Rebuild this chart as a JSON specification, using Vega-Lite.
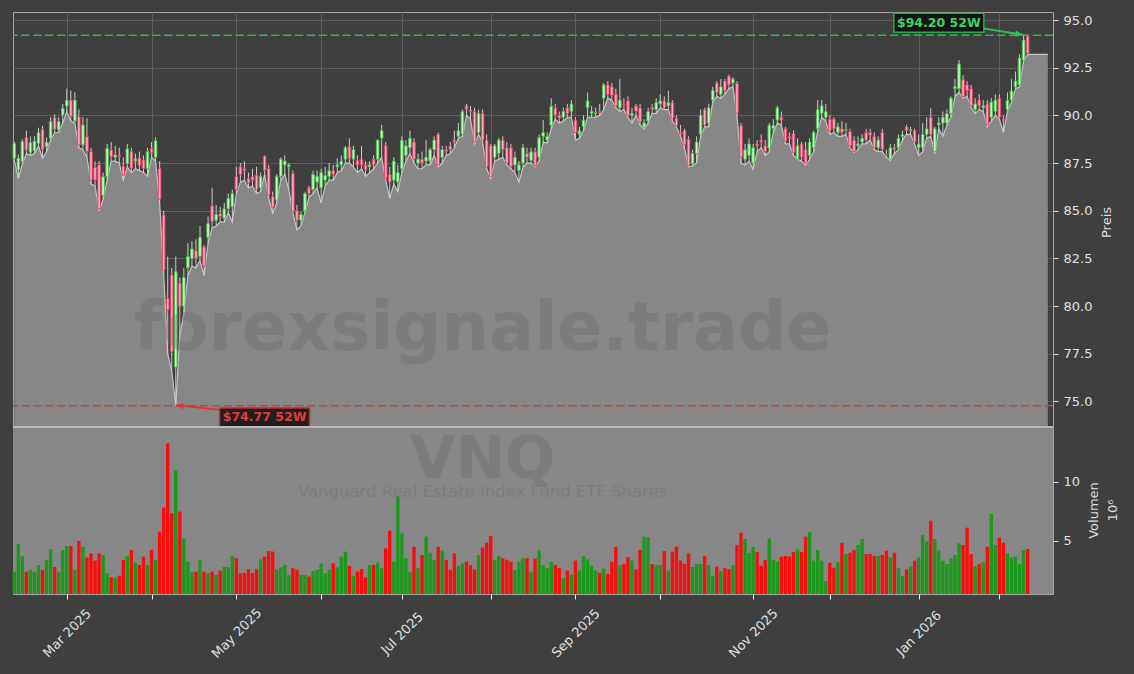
{
"$schema":"https://vega.github.io/schema/vega-lite/v6.json",
"width":1040,"height":582,
"autosize":{"type":"none"},
"padding":{"left":13,"top":12,"right":81,"bottom":80},
"background":"#3f3f3f",
"config":{"font":"DejaVu Sans","view":{"stroke":"#a8a8a8","strokeWidth":1,"fill":"#3f3f3f"},
"axis":{"labelColor":"#e0e0e0","labelFontSize":13,"tickColor":"#d8d8d8","tickSize":5,"domain":false,"titleColor":"#dcdcdc","titleFontSize":13,"titleFontWeight":"normal","gridColor":"#5d5d5d","gridWidth":1}},
"datasets":{
"px":[
{"d":"2025-02-11","o":87.75,"h":88.62,"l":87.66,"c":88.53,"v":2.4},
{"d":"2025-02-12","o":87.14,"h":87.95,"l":86.7,"c":87.75,"v":4.75},
{"d":"2025-02-13","o":87.57,"h":88.75,"l":87.45,"c":88.62,"v":3.73},
{"d":"2025-02-14","o":88.85,"h":89.2,"l":88.0,"c":88.18,"v":2.4},
{"d":"2025-02-18","o":88.04,"h":88.9,"l":87.9,"c":88.57,"v":2.55},
{"d":"2025-02-19","o":88.15,"h":88.9,"l":88.0,"c":88.65,"v":2.4},
{"d":"2025-02-20","o":88.53,"h":89.35,"l":88.4,"c":89.1,"v":2.97},
{"d":"2025-02-21","o":89.27,"h":89.45,"l":87.75,"c":88.22,"v":2.55},
{"d":"2025-02-24","o":88.36,"h":88.85,"l":88.1,"c":88.6,"v":3.4},
{"d":"2025-02-25","o":88.8,"h":89.9,"l":88.7,"c":89.67,"v":4.3},
{"d":"2025-02-26","o":89.88,"h":90.05,"l":89.1,"c":89.27,"v":2.8},
{"d":"2025-02-27","o":89.23,"h":89.9,"l":89.1,"c":89.67,"v":2.4},
{"d":"2025-02-28","o":90.02,"h":90.6,"l":89.6,"c":90.37,"v":4.24},
{"d":"2025-03-03","o":90.49,"h":91.4,"l":90.2,"c":90.8,"v":4.58},
{"d":"2025-03-04","o":90.8,"h":91.3,"l":89.7,"c":89.95,"v":4.58},
{"d":"2025-03-05","o":89.7,"h":91.2,"l":89.6,"c":90.8,"v":2.55},
{"d":"2025-03-06","o":89.93,"h":90.3,"l":88.3,"c":88.45,"v":5.0},
{"d":"2025-03-07","o":88.45,"h":89.9,"l":88.2,"c":89.5,"v":4.5},
{"d":"2025-03-10","o":88.88,"h":89.85,"l":87.8,"c":88.1,"v":3.6},
{"d":"2025-03-11","o":88.1,"h":88.3,"l":86.4,"c":86.6,"v":3.96},
{"d":"2025-03-12","o":87.27,"h":87.6,"l":86.3,"c":86.6,"v":3.34},
{"d":"2025-03-13","o":87.4,"h":87.6,"l":85.0,"c":85.1,"v":3.96},
{"d":"2025-03-14","o":85.8,"h":87.0,"l":85.6,"c":86.78,"v":3.8},
{"d":"2025-03-17","o":86.78,"h":88.5,"l":86.6,"c":88.27,"v":2.26},
{"d":"2025-03-18","o":88.18,"h":88.6,"l":87.6,"c":87.83,"v":1.92},
{"d":"2025-03-19","o":87.8,"h":88.4,"l":87.6,"c":87.92,"v":1.9},
{"d":"2025-03-20","o":87.93,"h":88.3,"l":87.5,"c":87.85,"v":2.06},
{"d":"2025-03-21","o":87.34,"h":87.8,"l":86.6,"c":86.87,"v":3.4},
{"d":"2025-03-24","o":87.48,"h":88.5,"l":87.3,"c":88.24,"v":3.73},
{"d":"2025-03-25","o":88.1,"h":88.3,"l":87.0,"c":87.22,"v":4.24},
{"d":"2025-03-26","o":87.6,"h":88.0,"l":87.2,"c":87.72,"v":3.17},
{"d":"2025-03-27","o":87.78,"h":88.1,"l":87.1,"c":87.35,"v":2.97},
{"d":"2025-03-28","o":87.66,"h":87.9,"l":87.0,"c":87.22,"v":3.67},
{"d":"2025-03-31","o":87.22,"h":88.3,"l":86.8,"c":88.1,"v":2.97},
{"d":"2025-04-01","o":88.27,"h":88.6,"l":87.8,"c":88.04,"v":4.24},
{"d":"2025-04-02","o":87.8,"h":88.85,"l":87.6,"c":88.67,"v":3.4},
{"d":"2025-04-03","o":87.22,"h":87.6,"l":85.4,"c":85.6,"v":5.8},
{"d":"2025-04-04","o":84.77,"h":85.0,"l":81.7,"c":81.89,"v":7.83},
{"d":"2025-04-07","o":80.4,"h":82.6,"l":77.5,"c":79.8,"v":13.28},
{"d":"2025-04-08","o":81.63,"h":82.0,"l":76.6,"c":77.6,"v":7.35},
{"d":"2025-04-09","o":76.8,"h":82.6,"l":74.77,"c":81.8,"v":11.0},
{"d":"2025-04-10","o":81.2,"h":81.5,"l":78.5,"c":80.0,"v":7.49},
{"d":"2025-04-11","o":80.0,"h":82.0,"l":79.6,"c":81.5,"v":5.23},
{"d":"2025-04-14","o":82.0,"h":83.3,"l":81.6,"c":82.6,"v":3.25},
{"d":"2025-04-15","o":82.5,"h":83.4,"l":82.1,"c":83.0,"v":2.4},
{"d":"2025-04-16","o":82.9,"h":83.5,"l":82.0,"c":82.5,"v":2.4},
{"d":"2025-04-17","o":82.6,"h":84.2,"l":82.4,"c":83.6,"v":3.4},
{"d":"2025-04-21","o":83.1,"h":83.2,"l":81.6,"c":82.1,"v":2.4},
{"d":"2025-04-22","o":83.6,"h":84.7,"l":83.3,"c":84.33,"v":2.26},
{"d":"2025-04-23","o":85.25,"h":86.2,"l":84.1,"c":84.43,"v":2.4},
{"d":"2025-04-24","o":84.5,"h":85.3,"l":84.2,"c":84.8,"v":2.12},
{"d":"2025-04-25","o":84.85,"h":85.2,"l":84.4,"c":84.7,"v":2.49},
{"d":"2025-04-28","o":84.6,"h":85.4,"l":84.4,"c":85.1,"v":2.8},
{"d":"2025-04-29","o":85.1,"h":85.9,"l":84.9,"c":85.65,"v":2.77},
{"d":"2025-04-30","o":85.2,"h":86.1,"l":84.4,"c":85.9,"v":3.73},
{"d":"2025-05-01","o":86.8,"h":87.3,"l":85.9,"c":86.1,"v":3.54},
{"d":"2025-05-02","o":87.3,"h":87.5,"l":86.5,"c":86.9,"v":2.26},
{"d":"2025-05-05","o":87.2,"h":87.6,"l":86.6,"c":87.1,"v":2.3},
{"d":"2025-05-06","o":86.7,"h":87.0,"l":86.2,"c":86.45,"v":2.6},
{"d":"2025-05-07","o":86.8,"h":87.2,"l":86.3,"c":86.6,"v":2.3},
{"d":"2025-05-08","o":86.87,"h":87.3,"l":85.9,"c":86.1,"v":2.6},
{"d":"2025-05-09","o":86.2,"h":87.0,"l":86.0,"c":86.8,"v":3.45},
{"d":"2025-05-12","o":87.87,"h":87.9,"l":86.9,"c":87.13,"v":3.67},
{"d":"2025-05-13","o":87.22,"h":87.4,"l":85.7,"c":85.82,"v":4.15},
{"d":"2025-05-14","o":85.74,"h":86.0,"l":84.86,"c":85.2,"v":4.1},
{"d":"2025-05-15","o":85.56,"h":86.9,"l":85.4,"c":86.8,"v":2.6},
{"d":"2025-05-16","o":86.8,"h":87.8,"l":86.6,"c":87.7,"v":2.77},
{"d":"2025-05-19","o":87.4,"h":87.9,"l":86.9,"c":87.6,"v":2.97},
{"d":"2025-05-20","o":87.3,"h":87.5,"l":86.1,"c":87.4,"v":2.12},
{"d":"2025-05-21","o":86.95,"h":87.1,"l":84.9,"c":84.95,"v":2.69},
{"d":"2025-05-22","o":85.0,"h":85.3,"l":84.0,"c":84.5,"v":2.55},
{"d":"2025-05-23","o":84.5,"h":84.95,"l":84.2,"c":84.8,"v":2.12},
{"d":"2025-05-27","o":85.0,"h":86.0,"l":84.9,"c":85.9,"v":2.12},
{"d":"2025-05-28","o":86.2,"h":86.3,"l":85.7,"c":85.9,"v":1.98},
{"d":"2025-05-29","o":86.1,"h":87.1,"l":85.9,"c":86.9,"v":2.46},
{"d":"2025-05-30","o":86.5,"h":87.1,"l":86.2,"c":86.8,"v":2.55},
{"d":"2025-06-02","o":86.2,"h":87.2,"l":85.4,"c":87.0,"v":3.1},
{"d":"2025-06-03","o":86.6,"h":87.3,"l":86.3,"c":86.85,"v":2.26},
{"d":"2025-06-04","o":86.8,"h":87.5,"l":86.6,"c":87.1,"v":2.6},
{"d":"2025-06-05","o":87.1,"h":87.4,"l":86.6,"c":86.9,"v":3.1},
{"d":"2025-06-06","o":87.3,"h":87.75,"l":87.0,"c":87.4,"v":2.77},
{"d":"2025-06-09","o":87.4,"h":87.9,"l":87.1,"c":87.6,"v":3.67},
{"d":"2025-06-10","o":87.7,"h":88.4,"l":87.5,"c":88.3,"v":4.1},
{"d":"2025-06-11","o":88.35,"h":88.8,"l":87.5,"c":87.75,"v":2.88},
{"d":"2025-06-12","o":87.7,"h":88.4,"l":87.3,"c":88.2,"v":2.04},
{"d":"2025-06-13","o":87.65,"h":87.9,"l":87.0,"c":87.4,"v":2.4},
{"d":"2025-06-16","o":87.7,"h":88.4,"l":87.2,"c":87.4,"v":2.63},
{"d":"2025-06-17","o":87.4,"h":87.6,"l":86.8,"c":87.15,"v":1.92},
{"d":"2025-06-18","o":87.3,"h":87.6,"l":87.0,"c":87.4,"v":2.97},
{"d":"2025-06-20","o":87.7,"h":87.9,"l":87.2,"c":87.4,"v":2.97},
{"d":"2025-06-23","o":87.7,"h":88.75,"l":87.5,"c":88.7,"v":3.17},
{"d":"2025-06-24","o":88.8,"h":89.5,"l":87.8,"c":89.2,"v":2.69},
{"d":"2025-06-25","o":88.4,"h":88.6,"l":86.6,"c":86.7,"v":4.38},
{"d":"2025-06-26","o":86.9,"h":87.3,"l":85.65,"c":86.5,"v":5.88},
{"d":"2025-06-27","o":86.6,"h":87.8,"l":86.4,"c":87.6,"v":3.25},
{"d":"2025-06-30","o":86.5,"h":87.4,"l":86.0,"c":87.0,"v":8.76},
{"d":"2025-07-01","o":87.2,"h":88.9,"l":87.0,"c":88.7,"v":5.65},
{"d":"2025-07-02","o":87.9,"h":88.7,"l":87.6,"c":88.4,"v":3.54},
{"d":"2025-07-03","o":88.3,"h":89.2,"l":88.0,"c":88.8,"v":2.4},
{"d":"2025-07-07","o":88.6,"h":88.8,"l":87.5,"c":87.7,"v":4.5},
{"d":"2025-07-08","o":87.5,"h":88.0,"l":87.2,"c":87.7,"v":2.69},
{"d":"2025-07-09","o":87.7,"h":88.1,"l":87.2,"c":87.5,"v":3.8},
{"d":"2025-07-10","o":87.6,"h":88.7,"l":87.4,"c":87.8,"v":5.37},
{"d":"2025-07-11","o":87.6,"h":88.3,"l":87.4,"c":88.2,"v":4.01},
{"d":"2025-07-14","o":88.2,"h":88.9,"l":87.9,"c":88.7,"v":3.4},
{"d":"2025-07-15","o":89.0,"h":89.1,"l":87.3,"c":87.4,"v":4.5},
{"d":"2025-07-16","o":87.8,"h":88.4,"l":87.5,"c":88.2,"v":4.18},
{"d":"2025-07-17","o":88.2,"h":88.4,"l":87.9,"c":88.1,"v":3.4},
{"d":"2025-07-18","o":88.4,"h":88.6,"l":88.0,"c":88.2,"v":2.55},
{"d":"2025-07-21","o":88.7,"h":89.2,"l":88.3,"c":88.6,"v":3.96},
{"d":"2025-07-22","o":88.9,"h":89.6,"l":88.8,"c":89.2,"v":2.88},
{"d":"2025-07-23","o":89.0,"h":90.3,"l":88.9,"c":90.2,"v":3.1},
{"d":"2025-07-24","o":90.5,"h":90.6,"l":90.0,"c":90.3,"v":3.25},
{"d":"2025-07-25","o":90.3,"h":90.5,"l":89.8,"c":90.2,"v":2.97},
{"d":"2025-07-28","o":90.2,"h":90.4,"l":88.5,"c":88.6,"v":2.6},
{"d":"2025-07-29","o":89.1,"h":90.3,"l":89.0,"c":90.1,"v":3.8},
{"d":"2025-07-30","o":90.1,"h":90.3,"l":88.6,"c":88.7,"v":4.44},
{"d":"2025-07-31","o":88.7,"h":89.0,"l":87.2,"c":87.3,"v":4.86},
{"d":"2025-08-01","o":88.4,"h":88.5,"l":86.7,"c":86.8,"v":5.43},
{"d":"2025-08-04","o":87.8,"h":88.5,"l":87.6,"c":88.4,"v":3.4},
{"d":"2025-08-05","o":88.0,"h":88.8,"l":87.7,"c":88.7,"v":3.73},
{"d":"2025-08-06","o":88.7,"h":88.9,"l":87.8,"c":88.2,"v":3.54},
{"d":"2025-08-07","o":88.3,"h":88.6,"l":87.4,"c":87.5,"v":3.4},
{"d":"2025-08-08","o":88.3,"h":88.5,"l":87.2,"c":87.3,"v":3.25},
{"d":"2025-08-11","o":87.4,"h":88.1,"l":87.0,"c":87.8,"v":2.55},
{"d":"2025-08-12","o":87.1,"h":87.6,"l":86.5,"c":87.4,"v":3.25},
{"d":"2025-08-13","o":87.5,"h":88.5,"l":87.3,"c":88.3,"v":3.54},
{"d":"2025-08-14","o":88.0,"h":88.3,"l":87.5,"c":87.8,"v":3.54},
{"d":"2025-08-15","o":87.63,"h":88.3,"l":87.5,"c":88.09,"v":2.4},
{"d":"2025-08-18","o":88.09,"h":88.3,"l":87.3,"c":87.36,"v":3.5},
{"d":"2025-08-19","o":87.8,"h":89.0,"l":87.6,"c":88.83,"v":4.2},
{"d":"2025-08-20","o":88.9,"h":89.75,"l":88.6,"c":89.1,"v":2.96},
{"d":"2025-08-21","o":88.7,"h":89.1,"l":88.55,"c":88.9,"v":2.7},
{"d":"2025-08-22","o":89.47,"h":90.9,"l":89.3,"c":90.48,"v":3.25},
{"d":"2025-08-25","o":90.39,"h":90.6,"l":89.8,"c":90.0,"v":2.96},
{"d":"2025-08-26","o":90.0,"h":90.2,"l":89.6,"c":89.85,"v":2.7},
{"d":"2025-08-27","o":89.9,"h":90.4,"l":89.7,"c":90.2,"v":1.85},
{"d":"2025-08-28","o":90.4,"h":90.6,"l":89.9,"c":90.1,"v":2.5},
{"d":"2025-08-29","o":90.2,"h":90.8,"l":89.9,"c":90.6,"v":2.16},
{"d":"2025-09-02","o":89.75,"h":89.9,"l":88.7,"c":89.1,"v":3.34},
{"d":"2025-09-03","o":89.0,"h":89.4,"l":88.8,"c":89.2,"v":2.5},
{"d":"2025-09-04","o":89.4,"h":90.0,"l":89.2,"c":89.75,"v":3.7},
{"d":"2025-09-05","o":90.4,"h":91.2,"l":89.9,"c":90.76,"v":3.45},
{"d":"2025-09-08","o":90.1,"h":90.5,"l":89.9,"c":90.2,"v":2.9},
{"d":"2025-09-09","o":90.1,"h":90.4,"l":89.9,"c":90.15,"v":2.5},
{"d":"2025-09-10","o":90.2,"h":90.6,"l":90.0,"c":90.15,"v":2.3},
{"d":"2025-09-11","o":90.9,"h":91.7,"l":90.3,"c":91.6,"v":2.66},
{"d":"2025-09-12","o":91.6,"h":91.8,"l":90.9,"c":91.1,"v":2.2},
{"d":"2025-09-15","o":91.5,"h":91.7,"l":90.8,"c":91.05,"v":3.25},
{"d":"2025-09-16","o":91.1,"h":91.4,"l":90.4,"c":90.5,"v":4.5},
{"d":"2025-09-17","o":90.4,"h":91.9,"l":90.2,"c":90.8,"v":2.96},
{"d":"2025-09-18","o":90.6,"h":90.9,"l":90.3,"c":90.55,"v":3.05},
{"d":"2025-09-19","o":90.76,"h":91.0,"l":89.9,"c":90.0,"v":3.64},
{"d":"2025-09-22","o":90.0,"h":90.4,"l":89.6,"c":90.1,"v":3.34},
{"d":"2025-09-23","o":90.5,"h":90.6,"l":90.0,"c":90.2,"v":2.6},
{"d":"2025-09-24","o":90.39,"h":90.6,"l":89.5,"c":89.65,"v":4.24},
{"d":"2025-09-25","o":89.35,"h":89.8,"l":89.28,"c":89.6,"v":5.37},
{"d":"2025-09-26","o":89.7,"h":90.4,"l":89.6,"c":90.2,"v":5.34},
{"d":"2025-09-29","o":90.4,"h":90.6,"l":90.1,"c":90.3,"v":3.05},
{"d":"2025-09-30","o":90.3,"h":90.9,"l":90.1,"c":90.67,"v":2.96},
{"d":"2025-10-01","o":90.6,"h":91.1,"l":90.4,"c":90.76,"v":2.96},
{"d":"2025-10-02","o":90.76,"h":91.0,"l":90.3,"c":90.4,"v":4.15},
{"d":"2025-10-03","o":90.5,"h":91.3,"l":90.3,"c":90.67,"v":2.5},
{"d":"2025-10-06","o":90.67,"h":90.8,"l":89.7,"c":89.84,"v":4.09},
{"d":"2025-10-07","o":89.84,"h":90.0,"l":89.4,"c":89.47,"v":4.53},
{"d":"2025-10-08","o":89.1,"h":89.5,"l":88.9,"c":89.0,"v":3.34},
{"d":"2025-10-09","o":89.2,"h":89.3,"l":88.3,"c":88.46,"v":3.05},
{"d":"2025-10-10","o":88.74,"h":88.9,"l":87.3,"c":87.36,"v":3.94},
{"d":"2025-10-13","o":87.45,"h":88.2,"l":87.35,"c":88.0,"v":2.8},
{"d":"2025-10-14","o":88.0,"h":88.9,"l":87.5,"c":88.6,"v":3.05},
{"d":"2025-10-15","o":89.0,"h":90.3,"l":88.9,"c":90.0,"v":3.05},
{"d":"2025-10-16","o":90.3,"h":90.4,"l":89.4,"c":89.5,"v":3.73},
{"d":"2025-10-17","o":89.6,"h":90.6,"l":89.4,"c":90.4,"v":2.96},
{"d":"2025-10-20","o":90.8,"h":91.5,"l":90.7,"c":91.3,"v":2.03},
{"d":"2025-10-21","o":91.7,"h":91.8,"l":91.0,"c":91.2,"v":2.82},
{"d":"2025-10-22","o":91.1,"h":91.9,"l":90.9,"c":91.5,"v":2.45},
{"d":"2025-10-23","o":91.8,"h":91.9,"l":91.1,"c":91.3,"v":2.7},
{"d":"2025-10-24","o":92.05,"h":92.14,"l":91.4,"c":91.6,"v":2.6},
{"d":"2025-10-27","o":91.7,"h":92.0,"l":91.5,"c":91.9,"v":2.96},
{"d":"2025-10-28","o":91.68,"h":91.8,"l":90.0,"c":90.12,"v":4.66},
{"d":"2025-10-29","o":89.47,"h":89.6,"l":87.5,"c":87.8,"v":5.7},
{"d":"2025-10-30","o":87.7,"h":88.5,"l":87.4,"c":88.2,"v":5.17},
{"d":"2025-10-31","o":87.9,"h":88.8,"l":87.6,"c":88.5,"v":4.0},
{"d":"2025-11-03","o":87.5,"h":88.5,"l":87.17,"c":88.3,"v":4.49},
{"d":"2025-11-04","o":88.5,"h":88.7,"l":88.1,"c":88.4,"v":4.07},
{"d":"2025-11-05","o":88.7,"h":89.0,"l":88.3,"c":88.6,"v":2.9},
{"d":"2025-11-06","o":88.4,"h":88.7,"l":87.9,"c":88.1,"v":3.39},
{"d":"2025-11-07","o":88.28,"h":89.6,"l":88.1,"c":89.47,"v":5.22},
{"d":"2025-11-10","o":89.3,"h":89.8,"l":89.1,"c":89.47,"v":3.39},
{"d":"2025-11-11","o":89.75,"h":90.5,"l":89.6,"c":90.39,"v":3.25},
{"d":"2025-11-12","o":89.9,"h":90.2,"l":89.5,"c":89.75,"v":3.67},
{"d":"2025-11-13","o":89.3,"h":89.4,"l":88.5,"c":88.65,"v":3.73},
{"d":"2025-11-14","o":88.9,"h":89.1,"l":88.5,"c":88.8,"v":3.67},
{"d":"2025-11-17","o":89.05,"h":89.2,"l":87.9,"c":88.06,"v":4.07},
{"d":"2025-11-18","o":87.7,"h":88.8,"l":87.7,"c":88.4,"v":4.29},
{"d":"2025-11-19","o":88.5,"h":88.6,"l":87.6,"c":87.8,"v":4.07},
{"d":"2025-11-20","o":88.2,"h":88.6,"l":87.39,"c":87.5,"v":5.37},
{"d":"2025-11-21","o":87.9,"h":88.8,"l":87.7,"c":88.6,"v":5.76},
{"d":"2025-11-24","o":88.3,"h":89.2,"l":88.1,"c":89.1,"v":3.33},
{"d":"2025-11-25","o":89.3,"h":90.8,"l":89.2,"c":90.3,"v":4.23},
{"d":"2025-11-26","o":90.1,"h":90.8,"l":89.9,"c":90.5,"v":3.33},
{"d":"2025-11-28","o":89.9,"h":90.6,"l":89.7,"c":90.2,"v":1.6},
{"d":"2025-12-01","o":89.8,"h":90.0,"l":89.0,"c":89.2,"v":3.16},
{"d":"2025-12-02","o":89.8,"h":89.9,"l":89.1,"c":89.3,"v":2.73},
{"d":"2025-12-03","o":89.1,"h":89.6,"l":88.9,"c":89.4,"v":3.22},
{"d":"2025-12-04","o":89.3,"h":89.7,"l":88.9,"c":89.1,"v":4.85},
{"d":"2025-12-05","o":89.2,"h":89.6,"l":89.0,"c":89.25,"v":3.9},
{"d":"2025-12-08","o":89.15,"h":89.3,"l":88.3,"c":88.4,"v":4.0},
{"d":"2025-12-09","o":88.7,"h":88.9,"l":88.05,"c":88.1,"v":4.23},
{"d":"2025-12-10","o":88.4,"h":88.9,"l":88.2,"c":88.5,"v":4.66},
{"d":"2025-12-11","o":88.6,"h":89.0,"l":88.5,"c":88.8,"v":5.17},
{"d":"2025-12-12","o":89.1,"h":89.3,"l":88.5,"c":88.7,"v":3.9},
{"d":"2025-12-15","o":89.1,"h":89.3,"l":88.7,"c":88.95,"v":3.9},
{"d":"2025-12-16","o":88.9,"h":89.1,"l":88.2,"c":88.3,"v":3.73},
{"d":"2025-12-17","o":88.3,"h":88.9,"l":88.1,"c":88.7,"v":3.73},
{"d":"2025-12-18","o":89.1,"h":89.3,"l":88.1,"c":88.2,"v":3.81},
{"d":"2025-12-19","o":87.95,"h":88.2,"l":87.8,"c":87.9,"v":4.18},
{"d":"2025-12-22","o":87.7,"h":88.5,"l":87.63,"c":88.3,"v":3.61},
{"d":"2025-12-23","o":88.3,"h":88.5,"l":88.0,"c":88.2,"v":4.0},
{"d":"2025-12-24","o":88.3,"h":89.0,"l":88.2,"c":88.8,"v":2.68},
{"d":"2025-12-26","o":88.9,"h":89.2,"l":88.7,"c":89.0,"v":2.03},
{"d":"2025-12-29","o":89.4,"h":89.5,"l":89.0,"c":89.2,"v":2.6},
{"d":"2025-12-30","o":89.2,"h":89.4,"l":89.0,"c":89.25,"v":2.82},
{"d":"2025-12-31","o":89.2,"h":89.3,"l":88.5,"c":88.6,"v":3.33},
{"d":"2026-01-02","o":88.3,"h":89.0,"l":87.9,"c":88.5,"v":3.58},
{"d":"2026-01-05","o":88.3,"h":89.6,"l":88.1,"c":89.0,"v":5.5},
{"d":"2026-01-06","o":89.0,"h":89.9,"l":88.8,"c":89.3,"v":4.94},
{"d":"2026-01-07","o":89.9,"h":90.4,"l":88.9,"c":89.0,"v":6.72},
{"d":"2026-01-08","o":88.1,"h":89.4,"l":88.0,"c":89.3,"v":5.17},
{"d":"2026-01-09","o":89.5,"h":89.9,"l":89.3,"c":89.6,"v":4.18},
{"d":"2026-01-12","o":89.6,"h":90.2,"l":88.9,"c":89.9,"v":3.33},
{"d":"2026-01-13","o":89.6,"h":90.3,"l":89.5,"c":90.1,"v":3.05},
{"d":"2026-01-14","o":90.1,"h":91.0,"l":89.9,"c":90.9,"v":3.53},
{"d":"2026-01-15","o":91.4,"h":91.9,"l":91.0,"c":91.5,"v":3.81},
{"d":"2026-01-16","o":91.4,"h":92.9,"l":91.2,"c":92.7,"v":4.8},
{"d":"2026-01-20","o":91.87,"h":92.1,"l":90.9,"c":90.98,"v":4.66},
{"d":"2026-01-21","o":91.6,"h":91.8,"l":91.0,"c":91.3,"v":6.13},
{"d":"2026-01-22","o":91.4,"h":91.6,"l":90.4,"c":90.5,"v":3.9},
{"d":"2026-01-23","o":90.3,"h":90.9,"l":90.1,"c":90.6,"v":2.88},
{"d":"2026-01-26","o":90.8,"h":91.1,"l":90.3,"c":90.5,"v":3.05},
{"d":"2026-01-27","o":90.4,"h":90.8,"l":90.2,"c":90.5,"v":3.19},
{"d":"2026-01-28","o":90.6,"h":90.8,"l":89.4,"c":89.5,"v":4.52},
{"d":"2026-01-29","o":89.9,"h":90.9,"l":89.7,"c":90.7,"v":7.28},
{"d":"2026-01-30","o":90.2,"h":91.1,"l":90.0,"c":90.8,"v":4.66},
{"d":"2026-02-02","o":90.9,"h":91.1,"l":89.8,"c":89.9,"v":5.28},
{"d":"2026-02-03","o":89.8,"h":90.0,"l":89.1,"c":89.7,"v":4.85},
{"d":"2026-02-04","o":90.3,"h":91.2,"l":90.2,"c":90.79,"v":3.95},
{"d":"2026-02-05","o":90.8,"h":91.9,"l":90.7,"c":91.28,"v":3.61},
{"d":"2026-02-06","o":91.5,"h":92.3,"l":91.4,"c":91.8,"v":3.67},
{"d":"2026-02-09","o":91.6,"h":93.2,"l":91.5,"c":93.0,"v":3.05},
{"d":"2026-02-10","o":92.9,"h":94.2,"l":92.85,"c":93.95,"v":4.23},
{"d":"2026-02-11","o":94.14,"h":94.18,"l":93.2,"c":93.25,"v":4.32},
{"d":"2026-02-12","l":93.2},
{"d":"2026-02-13","l":93.2},
{"d":"2026-02-17","l":93.2},
{"d":"2026-02-18","l":93.2},
{"d":"2026-02-19","l":93.2}
],
"lab":[{"d":"2026-01-09","p":94.85,"t":"$94.20 52W","k":"hi"},{"d":"2025-05-12","p":74.16,"t":"$74.77 52W","k":"lo"}],
"arr":[{"d1":"2026-01-27","p1":94.565,"d2":"2026-02-10","p2":94.22,"k":"hi"},{"d1":"2025-04-25","p1":74.55,"d2":"2025-04-09","p2":74.8,"k":"lo"}],
"lines":[{"p":94.2,"k":"hi"},{"p":74.77,"k":"lo"}],
"wm1":[{"d":"2025-07-30","p":77.7,"t":"forexsignale.trade"}],
"wm2":[{"d":"2025-07-30","v":10.35,"t":"VNQ"}],
"wm3":[{"d":"2025-07-30","v":8.72,"t":"Vanguard Real Estate Index Fund ETF Shares"}]
},
"data":{"name":"px"},
"layer":[
{"layer":[
{"mark":{"type":"area","color":"#878787","opacity":1,"line":{"color":"#c4c4c4","strokeWidth":1.2}},
"encoding":{
"x":{"field":"d","type":"ordinal","sort":"ascending","title":null,"scale":{"type":"point","padding":0.8,"align":0.2},
"axis":{"values":["2025-03-03","2025-04-01","2025-05-01","2025-06-02","2025-07-01","2025-08-01","2025-09-02","2025-10-01","2025-11-03","2025-12-01","2026-01-02","2026-02-02"],
"labelExpr":"indexof(['2025-03-03','2025-05-01','2025-07-01','2025-09-02','2025-11-03','2026-01-02'], datum.value) >= 0 ? utcFormat(toDate(datum.value), '%b %Y') : ''",
"labelAngle":-45,"labelAlign":"center","labelBaseline":"middle","labelPadding":34,"labelOverlap":false,"grid":true,"title":null,"tickColor":"#f0f0f0","labelFontSize":13}},
"y":{"field":"l","type":"quantitative","title":"Preis","scale":{"domain":[64.9,95.42],"nice":false,"zero":false},
"axis":{"orient":"right","values":[75,77.5,80,82.5,85,87.5,90,92.5,95],"format":".1f","grid":true,"title":"Preis","titleAngle":270,"titleX":53,"titleY":210,"titleAlign":"center","titleBaseline":"middle","labelPadding":5}},
"y2":{"datum":73.66}}},
{"transform":[{"filter":"isValid(datum.h)"}],
"mark":{"type":"rule","color":"#cdcdcd","strokeWidth":1},
"encoding":{"x":{"field":"d","type":"ordinal","title":null},
"y":{"field":"l","type":"quantitative","scale":{"domain":[64.9,95.42],"nice":false,"zero":false}},
"y2":{"field":"h"}}},
{"transform":[{"filter":"isValid(datum.h)"}],
"mark":{"type":"bar","size":2.6,"strokeWidth":0.9},
"encoding":{"x":{"field":"d","type":"ordinal","title":null},
"y":{"field":"o","type":"quantitative","scale":{"domain":[64.9,95.42],"nice":false,"zero":false}},
"y2":{"field":"c"},
"fill":{"condition":{"test":"datum.c >= datum.o","value":"#cdf3cd"},"value":"#f7aebf"},
"stroke":{"condition":{"test":"datum.c >= datum.o","value":"#44c044"},"value":"#e63b63"}}},
{"data":{"name":"lines"},
"mark":{"type":"rule","strokeDash":[8.3,3.6],"strokeWidth":1.5},
"encoding":{"y":{"field":"p","type":"quantitative","scale":{"domain":[64.9,95.42],"nice":false,"zero":false}},
"color":{"condition":{"test":"datum.k == 'hi'","value":"#35b356"},"value":"#d63c3c"}}},
{"data":{"name":"wm1"},
"mark":{"type":"text","fontSize":67,"fontWeight":"bold","color":"#6a6a6a","opacity":0.35,"align":"center","baseline":"alphabetic"},
"encoding":{"x":{"field":"d","type":"ordinal","title":null},
"y":{"field":"p","type":"quantitative","scale":{"domain":[64.9,95.42],"nice":false,"zero":false}},
"text":{"field":"t"}}},
{"data":{"name":"arr"},
"mark":{"type":"rule","strokeWidth":1.8},
"encoding":{"x":{"field":"d1","type":"ordinal","title":null},"x2":{"field":"d2"},
"y":{"field":"p1","type":"quantitative","scale":{"domain":[64.9,95.42],"nice":false,"zero":false}},"y2":{"field":"p2"},
"color":{"condition":{"test":"datum.k == 'hi'","value":"#2fc35a"},"value":"#e03535"}}},
{"data":{"name":"arr"},
"mark":{"type":"point","shape":"M0,0L-2,-0.75L-2,0.75Z","size":64,"filled":true,"opacity":1},
"encoding":{"x":{"field":"d2","type":"ordinal","title":null},
"y":{"field":"p2","type":"quantitative","scale":{"domain":[64.9,95.42],"nice":false,"zero":false}},
"angle":{"condition":{"test":"datum.k == 'hi'","value":8},"value":187},
"color":{"condition":{"test":"datum.k == 'hi'","value":"#2fc35a"},"value":"#e03535"}}},
{"data":{"name":"lab"},
"mark":{"type":"point","shape":"M-1,-0.211H1V0.211H-1Z","size":8100,"filled":true,"fill":"#0d0d0d","fillOpacity":0.85,"strokeWidth":1.5,"opacity":1},
"encoding":{"x":{"field":"d","type":"ordinal","title":null},
"y":{"field":"p","type":"quantitative","scale":{"domain":[64.9,95.42],"nice":false,"zero":false}},
"stroke":{"condition":{"test":"datum.k == 'hi'","value":"#2aa84c"},"value":"#c23030"}}},
{"data":{"name":"lab"},
"mark":{"type":"text","fontSize":12.5,"fontWeight":"bold","align":"center","baseline":"middle"},
"encoding":{"x":{"field":"d","type":"ordinal","title":null},
"y":{"field":"p","type":"quantitative","scale":{"domain":[64.9,95.42],"nice":false,"zero":false}},
"text":{"field":"t"},
"color":{"condition":{"test":"datum.k == 'hi'","value":"#3ad466"},"value":"#e43a3a"}}}
]},
{"layer":[
{"data":{"values":[{}]},
"mark":{"type":"rule","color":"#878787","strokeWidth":166},
"encoding":{"y":{"datum":7.54,"type":"quantitative","scale":{"domain":[0.508,49.83],"nice":false,"zero":false}}}},
{"data":{"values":[{}]},
"mark":{"type":"rule","color":"#b8b8b8","strokeWidth":2},
"encoding":{"y":{"datum":14.66,"type":"quantitative","scale":{"domain":[0.508,49.83],"nice":false,"zero":false}}}},
{"mark":{"type":"bar","size":3.4},
"encoding":{"x":{"field":"d","type":"ordinal","title":null},
"y":{"field":"v","type":"quantitative","title":["Volumen","10⁶"],"scale":{"domain":[0.508,49.83],"nice":false,"zero":false},
"axis":{"orient":"right","values":[5,10],"format":"d","grid":false,"title":["Volumen","10⁶"],"titleAngle":270,"titleX":40,"titleY":498,"titleAlign":"center","titleBaseline":"middle","titleLineHeight":19,"labelPadding":5}},
"y2":{"datum":0.508},
"color":{"condition":{"test":"datum.c >= datum.o","value":"#1c991c"},"value":"#fa0d0d"}}},
{"data":{"name":"wm2"},
"mark":{"type":"text","color":"#6a6a6a","opacity":0.35,"align":"center","baseline":"alphabetic","fontSize":59,"fontWeight":"bold"},
"encoding":{"x":{"field":"d","type":"ordinal","title":null},
"y":{"field":"v","type":"quantitative","scale":{"domain":[0.508,49.83],"nice":false,"zero":false}},
"text":{"field":"t"}}},
{"data":{"name":"wm3"},
"mark":{"type":"text","color":"#6a6a6a","opacity":0.35,"align":"center","baseline":"alphabetic","fontSize":16.5},
"encoding":{"x":{"field":"d","type":"ordinal","title":null},
"y":{"field":"v","type":"quantitative","scale":{"domain":[0.508,49.83],"nice":false,"zero":false}},
"text":{"field":"t"}}}
]}
],
"resolve":{"scale":{"y":"independent"},"axis":{"y":"independent"}}
}
